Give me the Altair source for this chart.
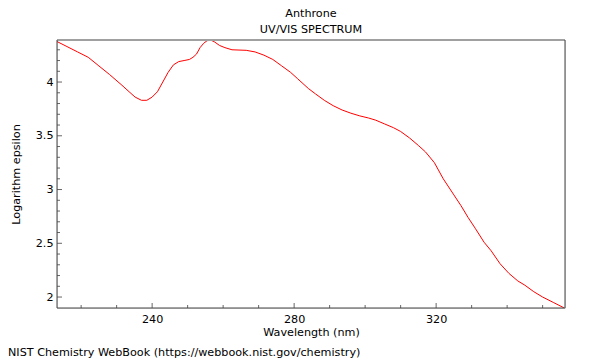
import altair as alt
import pandas as pd

# Spectrum data
wavelength = [213, 216, 219, 222, 225, 228, 231.5, 233.5, 235.2, 237, 238.5, 240,
              241.5, 243, 244.5, 246, 247.5, 249, 250.5, 251.5, 252.5, 253.5, 254.5,
              255.5, 256.5, 257.5, 259, 260.5, 262.5, 266.5, 269, 271.5, 274, 276.5,
              279, 281, 284, 286, 288.5, 291, 293.5, 296, 298.5, 301, 303, 305.5, 308,
              310, 312.5, 315, 317, 319.5, 322, 325, 327, 329, 331, 333.5, 335.5, 338,
              340.5, 343, 345, 347.5, 350, 353, 356]
log_eps = [4.38, 4.33, 4.28, 4.23, 4.15, 4.07, 3.97, 3.91, 3.86, 3.83, 3.83, 3.86,
           3.91, 4.00, 4.09, 4.16, 4.19, 4.20, 4.21, 4.23, 4.26, 4.32, 4.36,
           4.385, 4.39, 4.375, 4.34, 4.32, 4.30, 4.295, 4.28, 4.25, 4.21, 4.15,
           4.09, 4.03, 3.94, 3.89, 3.83, 3.78, 3.74, 3.71, 3.685, 3.665, 3.645, 3.61, 3.575,
           3.54, 3.48, 3.41, 3.35, 3.25, 3.10, 2.95, 2.85, 2.74, 2.64, 2.51, 2.43, 2.31,
           2.22, 2.15, 2.11, 2.05, 2.00, 1.95, 1.90]

x_labels = [240, 280, 320]
x_minor = [220, 230, 250, 260, 270, 290, 300, 310, 330, 340, 350]
y_labels = [2, 2.5, 3, 3.5, 4]
y_minor = [2.1, 2.2, 2.3, 2.4, 2.6, 2.7, 2.8, 2.9, 3.1, 3.2, 3.3, 3.4,
           3.6, 3.7, 3.8, 3.9, 4.1, 4.2, 4.3]

title_text = "Anthrone"
subtitle_text = "UV/VIS SPECTRUM"
x_title = "Wavelength (nm)"
y_title = "Logarithm epsilon"
footnote = "NIST Chemistry WebBook (https://webbook.nist.gov/chemistry)"

W, H = 508, 268
FONT = "DejaVu Sans"
FS = 11.2

xscale = alt.Scale(domain=[213.2, 356.3], nice=False, zero=False)
yscale = alt.Scale(domain=[1.898, 4.391], nice=False, zero=False)

xaxis = alt.Axis(values=x_labels, format="d", ticks=False, domain=False, grid=False,
                 labelPadding=5, labelFont=FONT, labelFontSize=FS, labelColor="black",
                 title=x_title, titleFont=FONT, titleFontSize=FS, titleFontWeight="normal",
                 titleColor="black", titleY=24, titleBaseline="middle")
yaxis = alt.Axis(values=y_labels, format=".1~f", ticks=False, domain=False, grid=False,
                 labelPadding=4, labelFont=FONT, labelFontSize=FS, labelColor="black",
                 title=y_title, titleFont=FONT, titleFontSize=FS, titleFontWeight="normal",
                 titleColor="black", titleX=-41, titleY=H / 2, titleAngle=-90,
                 titleBaseline="middle", titleAlign="center")

spec = pd.DataFrame({"wl": wavelength, "v": log_eps})

line = alt.Chart(spec).mark_line(color="#ff0000", strokeWidth=1, clip=True).encode(
    x=alt.X("wl:Q", scale=xscale, axis=xaxis),
    y=alt.Y("v:Q", scale=yscale, axis=yaxis),
)

tick_color = "#666666"

ymaj = alt.Chart(pd.DataFrame({"v": y_labels})).mark_rule(color=tick_color, strokeWidth=1).encode(
    y=alt.Y("v:Q", scale=yscale, axis=yaxis), x=alt.value(0), x2=alt.value(5))
ymin = alt.Chart(pd.DataFrame({"v": y_minor})).mark_rule(color=tick_color, strokeWidth=1).encode(
    y=alt.Y("v:Q", scale=yscale, axis=yaxis), x=alt.value(0), x2=alt.value(3))
xmaj = alt.Chart(pd.DataFrame({"wl": x_labels})).mark_rule(color=tick_color, strokeWidth=1).encode(
    x=alt.X("wl:Q", scale=xscale, axis=xaxis), y=alt.value(H), y2=alt.value(H - 5))
xmin = alt.Chart(pd.DataFrame({"wl": x_minor})).mark_rule(color=tick_color, strokeWidth=1).encode(
    x=alt.X("wl:Q", scale=xscale, axis=xaxis), y=alt.value(H), y2=alt.value(H - 3))

one = pd.DataFrame({"k": [0]})
top_border = alt.Chart(one).mark_rule(color="#a0a0a0", strokeWidth=2).encode(
    x=alt.value(0), x2=alt.value(W), y=alt.value(0))
left_border = alt.Chart(one).mark_rule(color="#444444", strokeWidth=1).encode(
    x=alt.value(0), y=alt.value(0), y2=alt.value(H))
bottom_border = alt.Chart(one).mark_rule(color="#444444", strokeWidth=1).encode(
    x=alt.value(0), x2=alt.value(W), y=alt.value(H))
right_border = alt.Chart(one).mark_rule(color="#444444", strokeWidth=1).encode(
    x=alt.value(W), y=alt.value(0), y2=alt.value(H))


def label(txt, x, y, align="center"):
    return alt.Chart(pd.DataFrame({"t": [txt]})).mark_text(
        font=FONT, fontSize=FS, color="black", align=align, baseline="middle").encode(
        text="t:N", x=alt.value(x), y=alt.value(y))


t1 = label(title_text, W / 2, -26.5)
t2 = label(subtitle_text, W / 2, -10.5)
foot = label(footnote, -49, 313, align="left")

chart = alt.layer(
    line, ymaj, ymin, xmaj, xmin,
    top_border, left_border, bottom_border, right_border,
    t1, t2, foot
).properties(
    width=W, height=H,
    autosize=alt.AutoSizeParams(type="none"),
    padding={"left": 49, "top": 32, "right": 27, "bottom": 60},
).configure_view(stroke=None).configure(background="white")

chart.save("out.html", embed_options={"renderer": "svg", "actions": False})
